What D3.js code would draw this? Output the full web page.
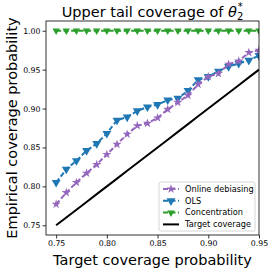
<!DOCTYPE html>
<html>
<head>
<meta charset="utf-8">
<script src="https://cdn.jsdelivr.net/npm/d3@7"></script>
<style>
  body { margin: 0; background: #fff; }
  text { font-family: "DejaVu Sans", sans-serif; }
</style>
</head>
<body>
<svg id="chart"></svg>
<script>
const targets = [0.75, 0.76, 0.77, 0.78, 0.79, 0.80, 0.81, 0.82, 0.83, 0.84, 0.85,
                 0.86, 0.87, 0.88, 0.89, 0.90, 0.91, 0.92, 0.93, 0.94, 0.95]
const debiasing = [0.777, 0.792, 0.805, 0.817, 0.828, 0.841, 0.854, 0.867, 0.878, 0.881, 0.888,
                   0.899, 0.908, 0.917, 0.931, 0.941, 0.945, 0.957, 0.961, 0.972, 0.975]
const ols = [0.805, 0.822, 0.833, 0.846, 0.855, 0.868, 0.885, 0.889, 0.897, 0.902, 0.905,
             0.911, 0.913, 0.923, 0.937, 0.941, 0.948, 0.954, 0.958, 0.962, 0.968]
const concentration = targets.map(() => 1.0)
const xTicks = [0.75, 0.80, 0.85, 0.90, 0.95]
const yTicks = [0.75, 0.80, 0.85, 0.90, 0.95, 1.00]

const W = 274, H = 272
const m = { left: 46, right: 15, top: 21, bottom: 37 }
const svg = d3.select('#chart').attr('width', W).attr('height', H)

const x = d3.scaleLinear().domain([0.74, 0.95]).range([m.left, W - m.right])
const y = d3.scaleLinear().domain([0.7375, 1.0125]).range([H - m.bottom, m.top])

const series = [
    { name: 'Online debiasing', values: debiasing, color: '#9467bd', symbol: d3.symbolStar, size: 26, rot: 0, dash: '5,2.5' },
    { name: 'OLS', values: ols, color: '#1f77b4', symbol: d3.symbolTriangle, size: 34, rot: 180, dash: '5,2.5' },
    { name: 'Concentration', values: concentration, color: '#2ca02c', symbol: d3.symbolTriangle, size: 24, rot: 180, dash: '5,2.5' },
    { name: 'Target coverage', values: targets, color: '#000', symbol: null, dash: null }
]

// clip
svg.append('clipPath').attr('id', 'clip').append('rect')
    .attr('x', m.left).attr('y', m.top)
    .attr('width', W - m.left - m.right).attr('height', H - m.top - m.bottom)

const plot = svg.append('g').attr('clip-path', 'url(#clip)')
const line = d3.line().x((d, i) => x(targets[i])).y(d => y(d))

series.slice().reverse().forEach(s => {
    plot.append('path')
        .attr('d', line(s.values))
        .attr('fill', 'none')
        .attr('stroke', s.color)
        .attr('stroke-width', 2)
        .attr('stroke-dasharray', s.dash)
    if (s.symbol) {
        plot.selectAll(null).data(s.values).enter()
            .append('path')
            .attr('d', d3.symbol().type(s.symbol).size(s.size))
            .attr('transform', (d, i) => `translate(${x(targets[i])},${y(d)}) rotate(${s.rot})`)
            .attr('fill', s.color)
    }
})

// axes
const xAxis = svg.append('g').attr('transform', `translate(0,${H - m.bottom})`)
    .call(d3.axisBottom(x).tickValues(xTicks).tickFormat(d3.format('.2f')).tickSize(3.5).tickPadding(2))
const yAxis = svg.append('g').attr('transform', `translate(${m.left},0)`)
    .call(d3.axisLeft(y).tickValues(yTicks).tickFormat(d3.format('.2f')).tickSize(3.5).tickPadding(2))
;[xAxis, yAxis].forEach(a => {
    a.select('.domain').remove()
    a.selectAll('text').attr('font-size', 7.8).attr('font-family', '"DejaVu Sans", sans-serif').attr('fill', '#000')
    a.selectAll('line').attr('stroke', '#000').attr('stroke-width', 0.8)
})

svg.append('rect')
    .attr('x', m.left).attr('y', m.top)
    .attr('width', W - m.left - m.right).attr('height', H - m.top - m.bottom)
    .attr('fill', 'none').attr('stroke', '#000').attr('stroke-width', 0.8)

// title
const title = svg.append('text').attr('x', (m.left + W - m.right) / 2).attr('y', 17)
    .attr('text-anchor', 'middle').attr('font-size', 14.5)
title.append('tspan').text('Upper tail coverage of ')
title.append('tspan').attr('font-style', 'italic').text('θ')
title.append('tspan').attr('font-size', 10).attr('dy', 3).text('2')
title.append('tspan').attr('font-size', 10).attr('dx', -5.5).attr('dy', -10).text('*')

svg.append('text').attr('x', (m.left + W - m.right) / 2).attr('y', 265)
    .attr('text-anchor', 'middle').attr('font-size', 14.5).text('Target coverage probability')
svg.append('text').attr('transform', `translate(17,${(m.top + H - m.bottom) / 2}) rotate(-90)`)
    .attr('text-anchor', 'middle').attr('font-size', 14.5).text('Empirical coverage probability')

// legend
const lg = svg.append('g').attr('transform', 'translate(159,182)')
lg.append('rect').attr('width', 96).attr('height', 49).attr('rx', 2)
    .attr('fill', '#fff').attr('fill-opacity', 0.8).attr('stroke', '#ccc').attr('stroke-width', 0.8)
series.forEach((s, i) => {
    const yy = 7 + i * 11.8
    lg.append('line').attr('x1', 4).attr('x2', 20).attr('y1', yy).attr('y2', yy)
        .attr('stroke', s.color).attr('stroke-width', 2).attr('stroke-dasharray', s.dash)
    if (s.symbol) {
        lg.append('path').attr('d', d3.symbol().type(s.symbol).size(s.size))
            .attr('transform', `translate(12,${yy}) rotate(${s.rot})`).attr('fill', s.color)
    }
    lg.append('text').attr('x', 26).attr('y', yy + 2.8).attr('font-size', 8.2).text(s.name)
})
</script>
</body>
</html>
